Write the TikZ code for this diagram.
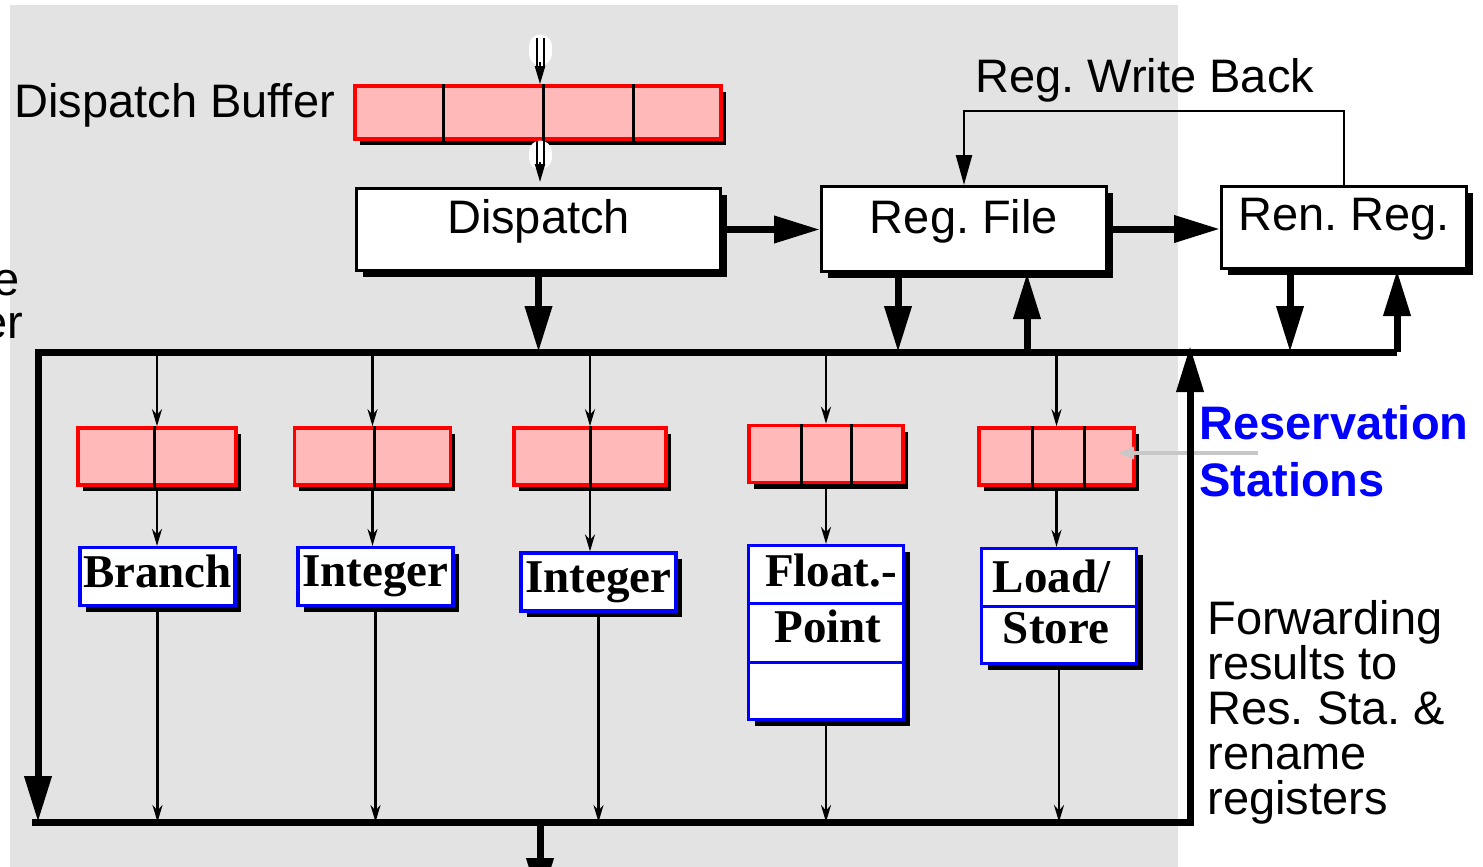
\documentclass[tikz,border=0pt]{standalone}
\usepackage{fontspec}
\setmainfont{Liberation Serif}
\setsansfont{Liberation Sans}
\frenchspacing
\usetikzlibrary{positioning}
\usetikzlibrary{shadows, arrows.meta}

\definecolor{fondo}{RGB}{227,227,227}
\definecolor{rosa}{RGB}{255,185,185}
\definecolor{flechagris}{RGB}{200,200,200}

\tikzset{
  caja/.style={draw=black, line width=1.5pt, fill=white, inner sep=2pt,
    font=\sffamily\fontsize{23.5}{23.5}\selectfont, text depth=13pt,
    drop shadow={shadow xshift=3pt, shadow yshift=-3pt, fill=black, opacity=1}},
  estacion/.style={draw=red, line width=1.8pt, fill=rosa, minimum width=78pt, minimum height=28.5pt,
    drop shadow={shadow xshift=2.4pt, shadow yshift=-3pt, fill=black, opacity=1}},
  unidad/.style={draw=blue, line width=1.6pt, fill=white, minimum width=77.5pt, minimum height=29pt, inner sep=0pt,
    font=\bfseries\fontsize{23.5}{23.5}\selectfont, text depth=5pt,
    drop shadow={shadow xshift=3.2pt, shadow yshift=-3.2pt, fill=black, opacity=1}},
  texto/.style={font=\sffamily\fontsize{23.5}{22.5}\selectfont, inner sep=0pt, align=left},
  textoud/.style={font=\bfseries\fontsize{23.5}{23.5}\selectfont, inner sep=0pt, anchor=base},
  bus/.style={line width=3.5pt},
  flechagrande/.style={bus, -{Triangle[length=23pt, width=13pt]}},
  flechafina/.style={line width=1.2pt, -{Stealth[length=8.5pt, width=5pt]}},
  separador/.style={line width=1.5pt},
}

\begin{document}
\begin{tikzpicture}[x=0.5pt, y=-0.5pt]
  \useasboundingbox (0,0) rectangle (1483,867);
  \clip (0,0) rectangle (1483,867);
  \fill[white] (0,0) rectangle (1483,867);
  \fill[fondo] (10,5) rectangle (1178,880); % Fondo gris

  % Textos
  \node[texto, anchor=base east] (frag1) at (20,295) {e};
  \node[texto, anchor=base east] (frag2) at (24,338) {er};
  \node[texto, anchor=base west] (etqbuf) at (14,117) {Dispatch Buffer};
  \node[texto, anchor=base west] (etqwb) at (975,92) {Reg. Write Back};
  \node[texto, anchor=base west, text=blue, font=\sffamily\bfseries\fontsize{23.5}{28.5}\selectfont] (etqrs) at (1199,496) {Reservation\\Stations};
  \node[texto, anchor=base west] (etqfw) at (1207,814) {Forwarding\\results to\\Res. Sta. \&\\rename\\registers};

  % Cajas de arriba
  \node[estacion, minimum width=183pt, minimum height=26.5pt] (dbuf) at (538,112.5) {}; % Buffer de despacho
  \node[caja, minimum width=182pt, minimum height=41pt] (disp) at (538.5,229.5) {Dispatch};
  \node[caja, minimum width=142.5pt, minimum height=42.5pt] (regf) at (964,229) {Reg. File};
  \node[caja, minimum width=122.5pt, minimum height=41pt] (renr) at (1344,227.5) {Ren. Reg.};

  % Separadores del buffer
  \draw[separador] ([xshift=-47.5pt]dbuf.north) -- ([xshift=-47.5pt]dbuf.south);
  \draw[separador] ([xshift=2.5pt]dbuf.north) -- ([xshift=2.5pt]dbuf.south);
  \draw[separador] ([xshift=47.5pt]dbuf.north) -- ([xshift=47.5pt]dbuf.south);

  % Estaciones de reserva
  \node[estacion, minimum width=79pt] (rs1) at (157,456.5) {};
  \node[estacion] (rs2) at (372.5,456.5) {};
  \node[estacion, minimum width=76pt] (rs3) at (590,456.5) {};
  \node[estacion, minimum width=77pt] (rs4) at (826,454) {};
  \node[estacion, minimum width=77.5pt] (rs5) at (1056.5,456.5) {};

  \draw[separador] ([xshift=-1.5pt]rs1.north) -- ([xshift=-1.5pt]rs1.south);
  \draw[separador] ([xshift=0.75pt]rs2.north) -- ([xshift=0.75pt]rs2.south);
  \draw[separador] (rs3.north) -- (rs3.south);
  \draw[separador] ([xshift=-12.5pt]rs4.north) -- ([xshift=-12.5pt]rs4.south);
  \draw[separador] ([xshift=12.5pt]rs4.north) -- ([xshift=12.5pt]rs4.south);
  \draw[separador] ([xshift=-12.25pt]rs5.north) -- ([xshift=-12.25pt]rs5.south);
  \draw[separador] ([xshift=13.75pt]rs5.north) -- ([xshift=13.75pt]rs5.south);

  % Unidades funcionales
  \node[unidad] (fu1) at (157.5,576.5) {Branch};
  \node[unidad] (fu2) at (375.5,576.5) {Integer};
  \node[unidad] (fu3) at (598.5,582) {Integer};
  \node[unidad, minimum height=87pt] (fu4) at (826,632.5) {};
  \node[unidad, minimum height=57.5pt] (fu5) at (1059,606) {};

  \draw[separador, blue] ([yshift=14.75pt]fu4.west) -- ([yshift=14.75pt]fu4.east);
  \draw[separador, blue] ([yshift=-14.75pt]fu4.west) -- ([yshift=-14.75pt]fu4.east);
  \draw[separador, blue] (fu5.west) -- (fu5.east);
  \node[textoud] (fu4a) at (831,586) {Float.-};
  \node[textoud] (fu4b) at (828,642) {Point};
  \node[textoud] (fu5a) at (1051.5,592) {Load/};
  \node[textoud] (fu5b) at (1056,643) {Store};

  % Flecha gris de la etiqueta
  \coordinate (rsptr) at (1258,453);
  \draw[line width=2pt, flechagris, -{Triangle[length=8pt, width=6pt]}] (rsptr) -- ++(-140,0);

  % Entrada y salida del buffer
  \coordinate (din) at (540,38);
  \draw[white, line width=11.5pt, line cap=round] (540,46) -- (540,54);
  \draw[double, double distance=2.5pt, line width=1pt] (din) -- ++(0,28);
  \draw[line width=1pt, -{Triangle[length=9pt, width=5pt]}] (540,62) -- (din |- dbuf.north);
  \draw[white, line width=11.5pt, line cap=round] (540,152) -- (540,158);
  \draw[double, double distance=2.5pt, line width=1pt] (din |- dbuf.south) -- ++(0,24);
  \draw[line width=1pt, -{Triangle[length=9pt, width=5pt]}, shorten >=2.5pt] (540,162) -- (din |- disp.north);

  % Flechas entre cajas
  \draw[flechagrande] (disp.east) -- (disp.east -| regf.west);
  \draw[flechagrande] (regf.east) -- (regf.east -| renr.west);
  \draw[line width=1.2pt, -{Triangle[length=15pt, width=8pt]}] (renr.north) -- ++(0,-74) -| (regf.north); % Reg. Write Back

  % Bus de resultados
  \coordinate (busL) at (38,352);
  \coordinate (busR) at (1397,352);
  \coordinate (botL) at (32,822);
  \coordinate (botR) at (1190,822);
  \coordinate (salida) at (540,904);

  \draw[flechagrande] (busR) -- (busL) -- (busL |- botL);
  \draw[flechagrande] (busR) -- (busR |- renr.south);
  \draw[flechagrande] (botL) -- (botR) -- ([yshift=3pt]botR |- busL);
  \draw[flechagrande] (salida |- botL) -- (salida);

  \draw[flechagrande] (disp.south) -- (disp.south |- busL);
  \draw[flechagrande] ([xshift=-33pt]regf.south) -- ([xshift=-33pt]regf.south |- busL);
  \draw[flechagrande] ([xshift=31.5pt]regf.south |- busL) -- ([xshift=31.5pt]regf.south);
  \draw[flechagrande] ([xshift=-27pt]renr.south) -- ([xshift=-27pt]renr.south |- busL);

  % Bus -> estaciones
  \draw[flechafina] (rs1.north |- busL) -- (rs1.north);
  \draw[flechafina] (rs2.north |- busL) -- (rs2.north);
  \draw[flechafina] (rs3.north |- busL) -- (rs3.north);
  \draw[flechafina] (rs4.north |- busL) -- (rs4.north);
  \draw[flechafina] (rs5.north |- busL) -- (rs5.north);

  % Estaciones -> unidades
  \draw[flechafina] (rs1.south) -- (rs1.south |- fu1.north);
  \draw[flechafina] (rs2.south) -- (rs2.south |- fu2.north);
  \draw[flechafina] (rs3.south) -- (rs3.south |- fu3.north);
  \draw[flechafina] (rs4.south) -- (rs4.south |- fu4.north);
  \draw[flechafina] (rs5.south) -- (rs5.south |- fu5.north);

  % Unidades -> bus de abajo
  \draw[flechafina] (fu1.south) -- (fu1.south |- botL);
  \draw[flechafina] (fu2.south) -- (fu2.south |- botL);
  \draw[flechafina] (fu3.south) -- (fu3.south |- botL);
  \draw[flechafina] (fu4.south) -- (fu4.south |- botL);
  \draw[flechafina] (fu5.south) -- (fu5.south |- botL);
\end{tikzpicture}
\end{document}
